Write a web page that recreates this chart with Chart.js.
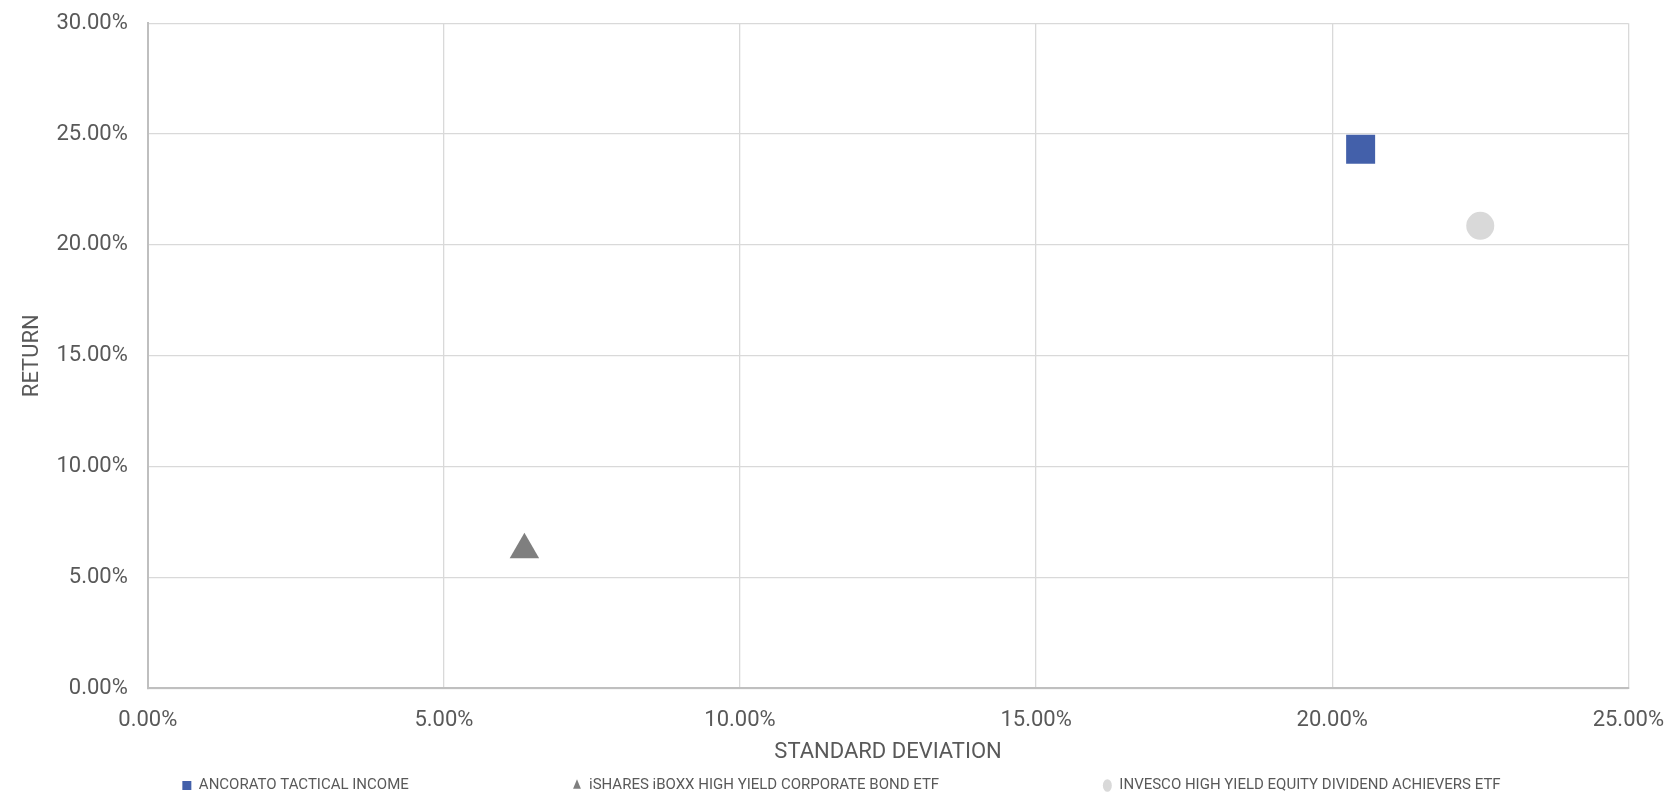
<!DOCTYPE html>
<html lang="en">
<head>
    <meta charset="UTF-8">
    <title>Risk / Return</title>
    <script src="https://cdn.jsdelivr.net/npm/chart.js"></script>
    <style>
        body {
            margin: 0;
            background-color: #fff;
            font-family: Roboto, sans-serif;
        }

        .chart-wrap {
            position: relative;
            width: 1668px;
            height: 793px;
        }
    </style>
</head>
<body>

    <div class="chart-wrap">
        <canvas id="riskChart"></canvas>
    </div>

    <script>
        // series names, [std dev %, return %]
        const seriesNames = [
            'ANCORATO TACTICAL INCOME',
            'iSHARES iBOXX HIGH YIELD CORPORATE BOND ETF',
            'INVESCO HIGH YIELD EQUITY DIVIDEND ACHIEVERS ETF'
        ];
        const stdDev = [20.48, 6.36, 22.50];
        const returns = [24.31, 6.25, 20.86];
        const markerStyles = ['rect', 'triangle', 'circle'];
        const markerColors = ['#4360aa', '#7f7f7f', '#d9d9d9'];
        const markerSizes = [20.5, 17, 14];

        const xTicks = [0, 5, 10, 15, 20, 25];
        const yTicks = [0, 5, 10, 15, 20, 25, 30];

        const datasets = seriesNames.map((name, i) => ({
            label: name,
            data: [{ x: stdDev[i], y: returns[i] }],
            pointStyle: markerStyles[i],
            backgroundColor: markerColors[i],
            borderColor: markerColors[i],
            borderWidth: 0,
            pointRadius: markerSizes[i],
            pointHoverRadius: markerSizes[i]
        }));

        const riskChart = new Chart(document.getElementById('riskChart'), {
            type: 'scatter',
            data: { datasets: datasets },
            options: {
                responsive: true,
                maintainAspectRatio: false,
                animation: false,
                layout: {
                    autoPadding: false,
                    padding: { left: 15, right: 0, top: 0, bottom: -10 }
                },
                scales: {
                    x: {
                        min: xTicks[0],
                        max: xTicks[xTicks.length - 1],
                        afterBuildTicks: axis => { axis.ticks = xTicks.map(v => ({ value: v })); },
                        ticks: {
                            color: '#595959',
                            font: { family: 'Roboto', size: 22 },
                            padding: 4,
                            maxRotation: 0,
                            callback: v => v.toFixed(2) + '%'
                        },
                        // invisible tick marks just push the labels down
                        grid: { color: '#d9d9d9', lineWidth: 1.3, tickLength: 15, tickColor: 'rgba(0,0,0,0)' },
                        border: { color: '#bfbfbf', width: 2 },
                        title: {
                            display: true,
                            text: 'STANDARD DEVIATION',
                            color: '#595959',
                            font: { family: 'Roboto', size: 22 },
                            padding: { top: 2, bottom: 12 }
                        }
                    },
                    y: {
                        min: yTicks[0],
                        max: yTicks[yTicks.length - 1],
                        afterBuildTicks: axis => { axis.ticks = yTicks.map(v => ({ value: v })); },
                        ticks: {
                            color: '#595959',
                            font: { family: 'Roboto', size: 22 },
                            padding: 10,
                            callback: v => v.toFixed(2) + '%'
                        },
                        grid: { color: '#d9d9d9', lineWidth: 1.3, tickLength: 10, tickColor: 'rgba(0,0,0,0)' },
                        border: { color: '#bfbfbf', width: 2 },
                        title: {
                            display: true,
                            text: 'RETURN',
                            color: '#595959',
                            font: { family: 'Roboto', size: 22 },
                            padding: { top: 4, bottom: 1 }
                        }
                    }
                },
                plugins: {
                    legend: {
                        position: 'bottom',
                        labels: {
                            usePointStyle: true,
                            pointStyleWidth: 9,
                            boxHeight: 9,
                            padding: 0,
                            color: '#595959',
                            font: { family: 'Roboto', size: 15 },
                            generateLabels: chart => chart.data.datasets.map((ds, i) => ({
                                text: ds.label + ' '.repeat(i < 2 ? 44 : 0),
                                fillStyle: ds.backgroundColor,
                                strokeStyle: ds.backgroundColor,
                                pointStyle: ds.pointStyle,
                                lineWidth: 0,
                                datasetIndex: i,
                                fontColor: '#595959'
                            }))
                        }
                    },
                    tooltip: { enabled: true }
                }
            }
        });
    </script>

</body>
</html>
